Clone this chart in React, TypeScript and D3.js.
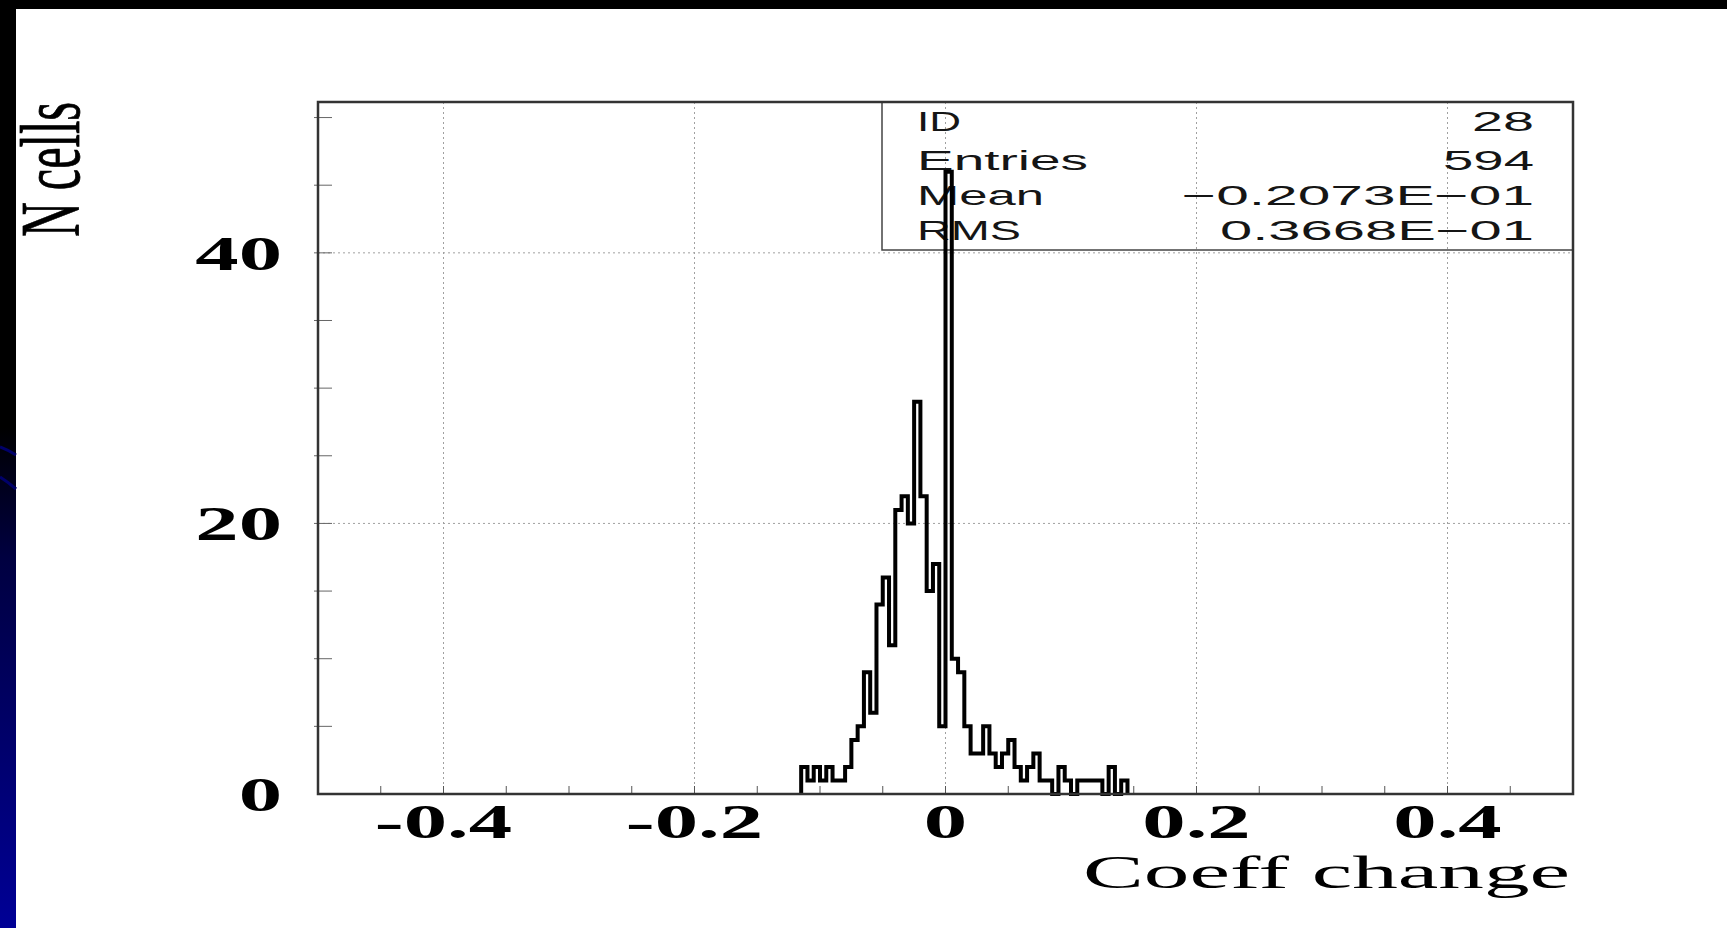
import React from 'react';
import * as d3 from 'd3';

const W = 1727;
const H = 928;

// Histogram of coefficient changes: 200 bins of 0.005 over [-0.5, 0.5).
// Only the populated stretch is listed, starting at the bin edge below.
const binWidth = 0.005;
const firstBinLow = -0.115;
const binCounts = [
  2, 1, 2, 1, 2, 1, 1, 2, 4, 5,
  9, 6, 14, 16, 11, 21, 22, 20, 29, 22,
  15, 17, 5, 46, 10, 9, 5, 3, 3, 5,
  3, 2, 3, 4, 2, 1, 2, 3, 1, 1,
  0, 2, 1, 0, 1, 1, 1, 1, 0, 2,
  0, 1,
];

const xMajorTicks = [-0.4, -0.2, 0, 0.2, 0.4];
const xTickLabels = ['-0.4', '-0.2', '0', '0.2', '0.4'];
const yMajorTicks = [0, 20, 40];
const yTickLabels = ['0', '20', '40'];
const yGridLines = [20, 40];

const statLabels = ['ID', 'Entries', 'Mean', 'RMS'];
const statValues = ['28', '594', '\u22120.2073E\u221201', '0.3668E\u221201'];

const xTitle = 'Coeff change';
const yTitle = 'N cells';

export default function App() {
  const x = d3.scaleLinear().domain([-0.5, 0.5]).range([318, 1573]);
  const y = d3.scaleLinear().domain([0, 51.15]).range([794, 102]);

  const edge = (i: number) => firstBinLow + Math.round(i * binWidth * 1e6) / 1e6;
  const pts: [number, number][] = [[x(edge(0)), y(0)]];
  binCounts.forEach((c, i) => pts.push([x(edge(i)), y(c)]));
  pts.push([x(edge(binCounts.length)), y(0)]);
  const histPath = d3.line().curve(d3.curveStepAfter)(pts) as string;

  const xMinor = d3.range(1, 20).map((i) => -0.5 + i * 0.05);
  const yMinor = d3.range(5, 51, 5);

  const serif = '"Liberation Serif", "Times New Roman", Times, serif';
  const sans = '"Liberation Sans", Arial, Helvetica, sans-serif';

  const statRowBase = [131, 170, 205, 240];
  const statLabelWidth = [44, 171, 127, 104];
  const statValueWidth = [62, 91, 352, 314];

  return (
    <svg
      width={W}
      height={H}
      viewBox={`0 0 ${W} ${H}`}
      style={{ position: 'absolute', left: 0, top: 0, display: 'block', background: '#fff' }}
    >
      <defs>
        <linearGradient id="sideBand" x1="0" y1="0" x2="0" y2="1">
          <stop offset="0" stopColor="#000" />
          <stop offset="0.46" stopColor="#000" />
          <stop offset="0.6" stopColor="#000040" />
          <stop offset="1" stopColor="#000096" />
        </linearGradient>
      </defs>
      <rect x={0} y={0} width={W} height={H} fill="#fff" />

      {/* page decoration: dark band on top and at the left edge */}
      <rect x={0} y={0} width={W} height={9} fill="#000" />
      <rect x={0} y={0} width={16} height={H} fill="url(#sideBand)" />
      <path d="M0,447 Q8,450 16,455" stroke="#00006a" strokeWidth={3} fill="none" />
      <path d="M0,477 Q8,482 16,489" stroke="#00006a" strokeWidth={3} fill="none" />

      {/* grid */}
      {xMajorTicks.map((v) => (
        <line key={`gx${v}`} x1={x(v)} x2={x(v)} y1={y(0)} y2={y(51.15)}
          stroke="#a0a0a0" strokeWidth={1} strokeDasharray="2,3" />
      ))}
      {yGridLines.map((v) => (
        <line key={`gy${v}`} x1={x(-0.5)} x2={x(0.5)} y1={y(v)} y2={y(v)}
          stroke="#a0a0a0" strokeWidth={1} strokeDasharray="2,3" />
      ))}

      {/* ticks */}
      {xMinor.map((v, i) => (
        <line key={`tx${i}`} x1={x(v)} x2={x(v)} y1={y(0)} y2={y(0) - 8}
          stroke="#555" strokeWidth={1} />
      ))}
      {yMinor.map((v) => (
        <line key={`ty${v}`} x1={x(-0.5) - 4} x2={x(-0.5) + 14} y1={y(v)} y2={y(v)}
          stroke="#666" strokeWidth={1} />
      ))}

      {/* statistics box */}
      <rect x={882} y={102} width={x(0.5) - 882} height={148}
        fill="none" stroke="#444" strokeWidth={1.5} />
      {statLabels.map((s, i) => (
        <text key={`sl${i}`} x={917} y={statRowBase[i]} fontFamily={sans} fontSize={27}
          fill="#151515" textLength={statLabelWidth[i]} lengthAdjust="spacingAndGlyphs">{s}</text>
      ))}
      {statValues.map((s, i) => (
        <text key={`sv${i}`} x={1534 - statValueWidth[i]} y={statRowBase[i]} fontFamily={sans} fontSize={27}
          fill="#151515" textLength={statValueWidth[i]} lengthAdjust="spacingAndGlyphs">{s}</text>
      ))}

      {/* histogram outline */}
      <path d={histPath} fill="none" stroke="#000" strokeWidth={4} strokeLinejoin="miter" />

      {/* frame */}
      <rect x={x(-0.5)} y={y(51.15)} width={x(0.5) - x(-0.5)} height={y(0) - y(51.15)}
        fill="none" stroke="#333" strokeWidth={2.5} />

      {/* tick labels */}
      {yMajorTicks.map((v, i) => (
        <text key={`yl${v}`} transform={`translate(282,${y(v) + 17}) scale(1.77,1)`}
          textAnchor="end" fontFamily={serif} fontWeight="bold" fontSize={49} fill="#000">
          {yTickLabels[i]}
        </text>
      ))}
      {xMajorTicks.map((v, i) => (
        <text key={`xl${v}`} transform={`translate(${x(v)},838) scale(1.77,1)`}
          textAnchor="middle" fontFamily={serif} fontWeight="bold" fontSize={49} fill="#000">
          {xTickLabels[i]}
        </text>
      ))}

      {/* axis titles */}
      <text x={1083} y={888} fontFamily={serif} fontSize={47} fill="#000"
        textLength={487} lengthAdjust="spacingAndGlyphs">{xTitle}</text>
      <text transform="translate(79,237) rotate(-90)" fontFamily={serif} fontSize={84} fill="#000"
        stroke="#000" strokeWidth={0.8}
        textLength={135} lengthAdjust="spacingAndGlyphs">{yTitle}</text>
    </svg>
  );
}
